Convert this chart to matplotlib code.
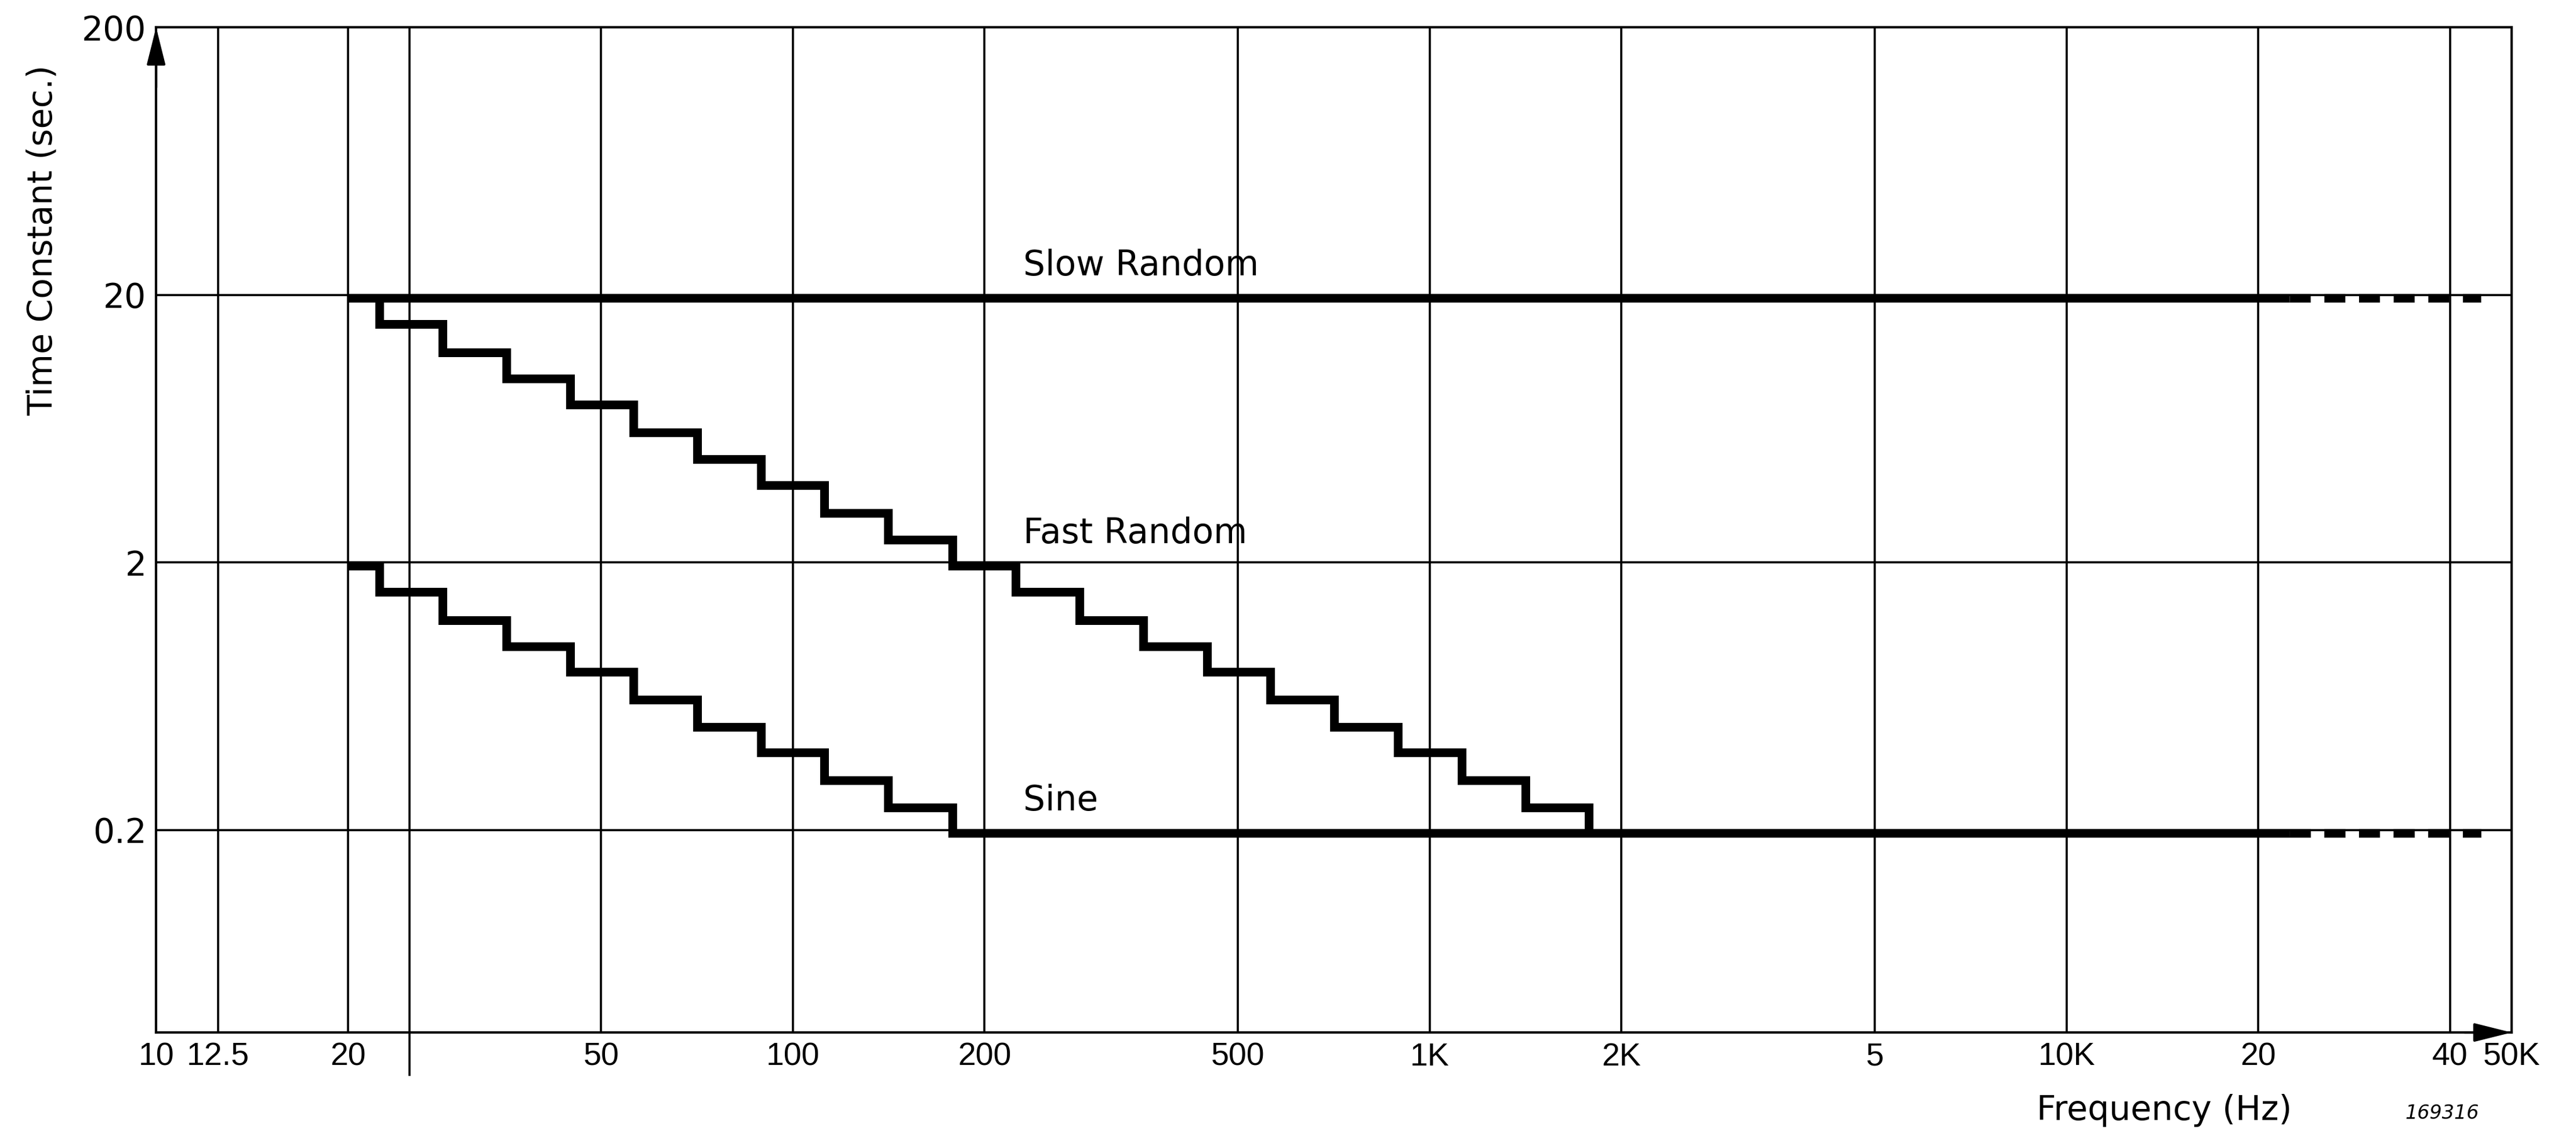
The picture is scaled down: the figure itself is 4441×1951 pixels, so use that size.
import matplotlib
matplotlib.use("Agg")
import matplotlib.pyplot as plt
from matplotlib.ticker import FixedLocator, NullLocator
from matplotlib.transforms import offset_copy

# third-octave band edges (Hz) and the time constants (s)
fast_edges = [20, 22.4, 28.2, 35.5, 44.7, 56.2, 70.8, 89.1, 112, 141, 178,
              224, 282, 355, 447, 562, 708, 891, 1122, 1413, 1778]
fast_tc = [20, 16, 12.5, 10, 8, 6.3, 5, 4, 3.15, 2.5, 2,
           1.6, 1.25, 1, 0.8, 0.63, 0.5, 0.4, 0.315, 0.25, 0.2]

sine_edges = [20, 22.4, 28.2, 35.5, 44.7, 56.2, 70.8, 89.1, 112, 141, 178]
sine_tc = [2, 1.6, 1.25, 1, 0.8, 0.63, 0.5, 0.4, 0.315, 0.25, 0.2]

slow_edges = [20]
slow_tc = [20]

solid_end = 22400
dashed_end = 44700

curve_names = ["Slow Random", "Fast Random", "Sine"]
label_levels = [20, 2, 0.2]
label_freq = 230

x_ticks = [10, 12.5, 20, 50, 100, 200, 500, 1000, 2000, 5000, 10000, 20000, 40000, 50000]
x_labels = ["10", "12.5", "20", "50", "100", "200", "500", "1K", "2K", "5", "10K", "20", "40", "50K"]
x_extra_line = [25]
y_ticks = [0.2, 2, 20, 200]
y_labels = ["0.2", "2", "20", "200"]

plt.rcParams['font.family'] = ['DejaVu Sans']

fig = plt.figure(figsize=(22.205, 9.755), dpi=200)
ax = fig.add_axes([0.0606, 0.0871, 0.9144, 0.8888])
ax.set_xscale('log')
ax.set_yscale('log')
ax.set_xlim(10, 50000)
ax.set_ylim(0.035, 200)

ax.set_xticks(x_ticks)
ax.set_xticklabels(x_labels, family=['Liberation Sans', 'DejaVu Sans'], fontsize=20)
ax.xaxis.set_minor_locator(FixedLocator(x_extra_line))
ax.set_yticks(y_ticks)
ax.set_yticklabels(y_labels, fontsize=21)
ax.yaxis.set_minor_locator(NullLocator())

ax.tick_params(axis='x', which='major', length=0, pad=6)
ax.tick_params(axis='x', which='minor', length=27, width=1.3, direction='out', labelbottom=False)
ax.tick_params(axis='y', length=0, pad=6)

ax.grid(True, which='both', color='black', linewidth=1.3)
for s in ax.spines.values():
    s.set_linewidth(1.5)
    s.set_color('black')

# thick curves hang just below their grid line
lw = 5.4
trans = offset_copy(ax.transData, fig=fig, x=0, y=-(lw - 1.3) / 2, units='points')

for edges, tc in [(slow_edges, slow_tc), (fast_edges, fast_tc), (sine_edges, sine_tc)]:
    xs = edges + [solid_end]
    ys = tc + [tc[-1]]
    ax.step(xs, ys, where='post', color='black', linewidth=lw, transform=trans,
            solid_joinstyle='miter', solid_capstyle='butt', zorder=3)

plt.rcParams['lines.scale_dashes'] = False
for tc in [slow_tc, fast_tc, sine_tc]:
    ax.plot([solid_end, dashed_end], [tc[-1], tc[-1]], color='black', linewidth=lw,
            dashes=(13, 8.5), dash_capstyle='butt', transform=trans, zorder=3)

for name, level in zip(curve_names, label_levels):
    ax.annotate(name, xy=(label_freq, level), xytext=(0, 12), textcoords='offset points',
                ha='left', va='baseline', fontsize=21.5)

# axis arrows
arrow = dict(arrowstyle='-|>,head_length=0.8,head_width=0.2', mutation_scale=25,
             color='black', lw=1.5, shrinkA=0, shrinkB=0)
ax.annotate('', xy=(1.0, 0), xytext=(0.98, 0), xycoords='axes fraction', arrowprops=arrow)
ax.annotate('', xy=(0, 1.0), xytext=(0, 0.94), xycoords='axes fraction', arrowprops=arrow)

fig.text(73 / 4441, 1 - 415 / 1951, "Time Constant (sec.)", rotation=90,
         ha='center', va='center', fontsize=21)
fig.text(3731 / 4441, 1 - 1915 / 1951, "Frequency (Hz)", ha='center', va='center', fontsize=21)
fig.text(4210 / 4441, 1 - 1920 / 1951, "169316", ha='center', va='center',
         fontsize=12, style='italic')

fig.savefig("out.png", dpi=200)
